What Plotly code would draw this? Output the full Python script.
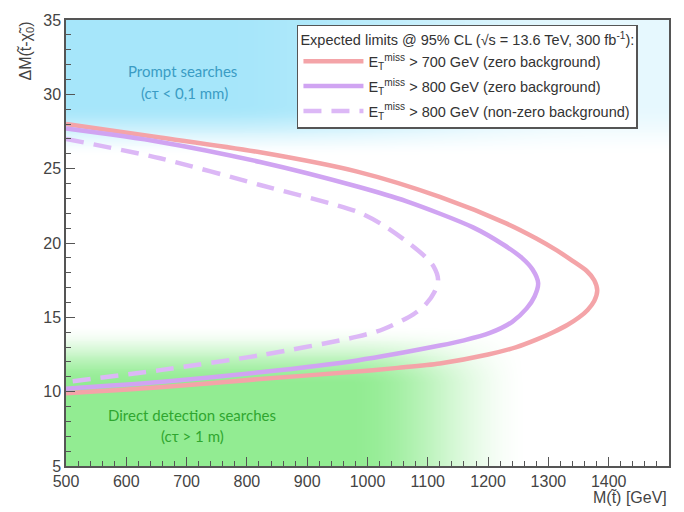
import numpy as np
import plotly.graph_objects as go

# Exclusion contours: stop mass M(t~) [GeV] vs mass splitting dM [GeV]
red_m = [500, 656, 822, 983, 1120, 1231, 1280, 1314, 1340, 1364, 1376, 1381,
         1376, 1365, 1351, 1332, 1308, 1280, 1247, 1200, 1120, 1050, 983, 822, 656, 500]
red_dm = [28.0, 27.1, 26.1, 24.8, 23.1, 21.3, 20.3, 19.5, 18.8, 18.1, 17.5, 16.8,
          16.1, 15.5, 15.0, 14.5, 14.0, 13.5, 13.0, 12.5, 11.9, 11.6, 11.35, 10.85, 10.3, 9.9]

pur_m = [500, 656, 822, 983, 1065, 1175, 1225, 1256, 1274, 1283,
         1277, 1264, 1240, 1203, 1160, 1120, 983, 822, 656, 500]
pur_dm = [27.7, 26.8, 25.45, 23.8, 22.8, 21.05, 19.9, 19.0, 18.2, 17.3,
          16.4, 15.6, 14.7, 13.95, 13.45, 13.1, 12.1, 11.3, 10.65, 10.2]

dash_m = [500, 656, 822, 983, 1026, 1065, 1095, 1110, 1117,
          1111, 1097, 1076, 1026, 983, 822, 656, 500]
dash_dm = [27.0, 25.7, 23.9, 22.1, 21.2, 20.1, 19.1, 18.4, 17.55,
           16.7, 15.9, 15.2, 14.2, 13.7, 12.45, 11.45, 10.65]

series_names = [
    "E<sub>T</sub><sup>miss</sup> > 700 GeV (zero background)",
    "E<sub>T</sub><sup>miss</sup> > 800 GeV (zero background)",
    "E<sub>T</sub><sup>miss</sup> > 800 GeV (non-zero background)",
]

x_range = [500, 1500]
y_range = [5, 35]

FONT = "Liberation Sans, Arial, sans-serif"
AX = "#555555"


def smooth(t):
    t = np.clip(t, 0, 1)
    return t * t * (3 - 2 * t)


# Shaded regions (prompt searches above, direct detection below)
gx = np.linspace(500, 1500, 201)
gy = np.linspace(5, 35, 241)
X, Y = np.meshgrid(gx, gy)
blue = smooth((Y - 25.8) / 3.5) * (1 - 0.72 * smooth((X - 750) / 650))
green = smooth((14.5 - Y) / 4.0) * smooth((1270 - X) / 300)

fig = go.Figure()
fig.add_trace(go.Heatmap(
    x=gx, y=gy, z=blue, zmin=0, zmax=1, zsmooth="best", showscale=False,
    colorscale=[[0, "rgba(166,230,250,0)"], [1, "rgba(166,230,250,1)"]],
    hoverinfo="skip", showlegend=False))
fig.add_trace(go.Heatmap(
    x=gx, y=gy, z=green, zmin=0, zmax=1, zsmooth="best", showscale=False,
    colorscale=[[0, "rgba(146,236,146,0)"], [1, "rgba(146,236,146,1)"]],
    hoverinfo="skip", showlegend=False))

styles = [
    dict(color="#f4a4a8", width=4.5, dash="solid"),
    dict(color="#d0a4f2", width=4.5, dash="solid"),
    dict(color="#dcb8f6", width=4.5, dash="18px,10px"),
]
for i, (mx, dm, name, st) in enumerate(zip([red_m, pur_m, dash_m], [red_dm, pur_dm, dash_dm],
                                           series_names, styles)):
    fig.add_trace(go.Scatter(x=mx, y=dm, mode="lines", name=name, legendgroup=f"g{i}",
                             line=dict(shape="spline", smoothing=0.8, **st)))

fig.update_layout(
    width=684, height=512, autosize=False,
    margin=dict(l=66, r=15, t=13, b=46),
    paper_bgcolor="white", plot_bgcolor="white",
    font=dict(family=FONT, color="#444444"),
    legend=dict(
        x=0.383, y=0.989, xanchor="left", yanchor="top",
        bgcolor="white", bordercolor=AX, borderwidth=1.5,
        itemwidth=60, tracegroupgap=3,
        font=dict(size=14.5, color="#333333"),
        title=dict(text="Expected limits @ 95% CL (√s = 13.6 TeV, 300 fb<sup>-1</sup>):",
                   font=dict(size=14.5, color="#333333")),
    ),
    xaxis=dict(
        range=x_range, dtick=100, tick0=500, ticks="inside", ticklen=9, tickwidth=1.2,
        tickcolor=AX, showline=True, linecolor=AX, linewidth=1.5, mirror=True,
        showgrid=False, zeroline=False, tickfont=dict(size=16, color="#444444"),
        minor=dict(dtick=20, ticks="inside", ticklen=5, tickcolor=AX, showgrid=False),
    ),
    yaxis=dict(
        range=y_range, dtick=5, tick0=5, ticks="inside", ticklen=9, tickwidth=1.2,
        tickcolor=AX, showline=True, linecolor=AX, linewidth=1.5, mirror=True,
        showgrid=False, zeroline=False, tickfont=dict(size=16, color="#444444"),
        minor=dict(dtick=1, ticks="inside", ticklen=5, tickcolor=AX, showgrid=False),
    ),
)

# Axis titles
fig.add_annotation(text="M(t̃) [GeV]", xref="paper", yref="paper", x=1.0, y=-0.07,
                   xanchor="right", yanchor="middle", showarrow=False,
                   font=dict(size=16, color="#444444"))
fig.add_annotation(text="ΔM(t̃-χ̃<sub>0</sub>)", xref="paper", yref="paper", x=0, y=1.0,
                   xshift=-40, xanchor="center", yanchor="top", textangle=-90, showarrow=False,
                   font=dict(size=16, color="#444444"))

# Region labels
REG = "Lato, Open Sans, sans-serif"
fig.add_annotation(text="Prompt searches", x=694, y=31.6, showarrow=False,
                   font=dict(family=REG, size=15, color="#3a9cc4"))
fig.add_annotation(text="(cτ < 0,1 mm)", x=697, y=30.1, showarrow=False,
                   font=dict(family=REG, size=15, color="#3a9cc4"))
fig.add_annotation(text="Direct detection searches", x=709, y=8.45, showarrow=False,
                   font=dict(family=REG, size=15, color="#2fa62f"))
fig.add_annotation(text="(cτ > 1 m)", x=710, y=7.0, showarrow=False,
                   font=dict(family=REG, size=15, color="#2fa62f"))

fig.write_html("out.html")
